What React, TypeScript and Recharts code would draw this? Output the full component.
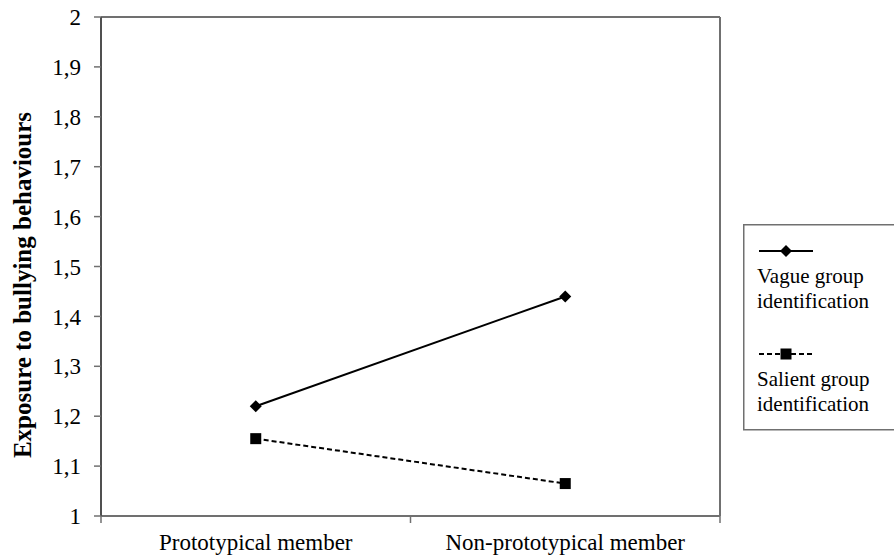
import { Line, LineChart, ReferenceLine, XAxis, YAxis } from 'recharts'

const categories = ['Prototypical member', 'Non-prototypical member']
const vagueValues = [1.22, 1.44]
const salientValues = [1.155, 1.065]
const seriesNames = ['Vague group identification', 'Salient group identification']
const yTicks = [1, 1.1, 1.2, 1.3, 1.4, 1.5, 1.6, 1.7, 1.8, 1.9, 2]
const xTicks = [0, 0.5, 1, 1.5, 2]

const data = categories.map((name, i) => ({
  pos: i + 0.5,
  name,
  vague: vagueValues[i],
  salient: salientValues[i],
}))

const FONT = 'Liberation Serif, DejaVu Serif, serif'
const AXIS = '#707070'

function Diamond({ cx, cy }: { cx?: number; cy?: number }) {
  if (cx == null || cy == null) return null
  const r = 6
  return (
    <path
      d={`M${cx},${cy - r}L${cx + r},${cy}L${cx},${cy + r}L${cx - r},${cy}Z`}
      fill="#000"
    />
  )
}

function Square({ cx, cy }: { cx?: number; cy?: number }) {
  if (cx == null || cy == null) return null
  return <rect x={cx - 5.5} y={cy - 5.5} width={11} height={11} fill="#000" />
}

function CategoryTick(props: any) {
  const { x, y, payload } = props
  const v = payload.value
  if (Number.isInteger(v)) {
    return <line x1={x} y1={y} x2={x} y2={y + 7} stroke={AXIS} strokeWidth={1.5} />
  }
  const label = categories[Math.floor(v)]
  return (
    <text x={x} y={y + 34} textAnchor="middle" style={{ fontFamily: FONT }} fontSize={23} fill="#000">
      {label}
    </text>
  )
}

function YTitle() {
  const cx = 22
  const cy = 285
  return (
    <text
      x={cx}
      y={cy}
      transform={`rotate(-90, ${cx}, ${cy})`}
      textAnchor="middle"
      dominantBaseline="central"
      style={{ fontFamily: FONT }}
      fontWeight={700}
      fontSize={25}
      fill="#000"
    >
      Exposure to bullying behaviours
    </text>
  )
}

function LegendBox() {
  const text = { style: { fontFamily: FONT }, fontSize: 21, fill: '#000' }
  const [vName, sName] = seriesNames.map((s) => {
    const idx = s.lastIndexOf(' ')
    return [s.slice(0, idx), s.slice(idx + 1)]
  })
  return (
    <svg
      width={151}
      height={207}
      style={{ position: 'absolute', left: 743, top: 224 }}
    >
      <rect x={0.75} y={0.75} width={160} height={205} fill="#fff" stroke={AXIS} strokeWidth={1.5} />
      <line x1={16} y1={27} x2={70} y2={27} stroke="#000" strokeWidth={2} />
      <Diamond cx={43} cy={27} />
      <text x={14} y={59} {...text}>{vName[0]}</text>
      <text x={14} y={84} {...text}>{vName[1]}</text>
      <line x1={16} y1={130} x2={70} y2={130} stroke="#000" strokeWidth={2} strokeDasharray="5 3" />
      <Square cx={43} cy={130} />
      <text x={14} y={162} {...text}>{sName[0]}</text>
      <text x={14} y={187} {...text}>{sName[1]}</text>
    </svg>
  )
}

export default function App() {
  return (
    <div style={{ position: 'absolute', left: 0, top: 0, width: 894, height: 557, background: '#fff', fontFamily: FONT }}>
      <LineChart
        width={894}
        height={557}
        data={data}
        margin={{ top: 17, right: 174, left: 0, bottom: 0 }}
      >
        <XAxis
          dataKey="pos"
          type="number"
          domain={[0, 2]}
          ticks={xTicks}
          interval={0}
          tickSize={0}
          tickMargin={0}
          tickLine={false}
          tick={<CategoryTick />}
          height={41}
          axisLine={{ stroke: AXIS, strokeWidth: 2 }}
        />
        <YAxis
          type="number"
          domain={[1, 2]}
          ticks={yTicks}
          interval={0}
          width={101}
          tickSize={7}
          tickMargin={13}
          tickFormatter={(v: number) => String(v).replace('.', ',')}
          tick={{ fill: '#000', fontSize: 23, style: { fontFamily: FONT } }}
          tickLine={{ stroke: AXIS, strokeWidth: 1.5 }}
          axisLine={{ stroke: '#505050', strokeWidth: 2 }}
          label={<YTitle />}
        />
        <ReferenceLine y={2} stroke={AXIS} strokeWidth={2} />
        <ReferenceLine x={2} stroke={AXIS} strokeWidth={2} />
        <Line
          dataKey="vague"
          name={seriesNames[0]}
          stroke="#000"
          strokeWidth={2}
          dot={<Diamond />}
          activeDot={false}
          isAnimationActive={false}
        />
        <Line
          dataKey="salient"
          name={seriesNames[1]}
          stroke="#000"
          strokeWidth={2}
          strokeDasharray="5 3"
          dot={<Square />}
          activeDot={false}
          isAnimationActive={false}
        />
      </LineChart>
      <LegendBox />
    </div>
  )
}
